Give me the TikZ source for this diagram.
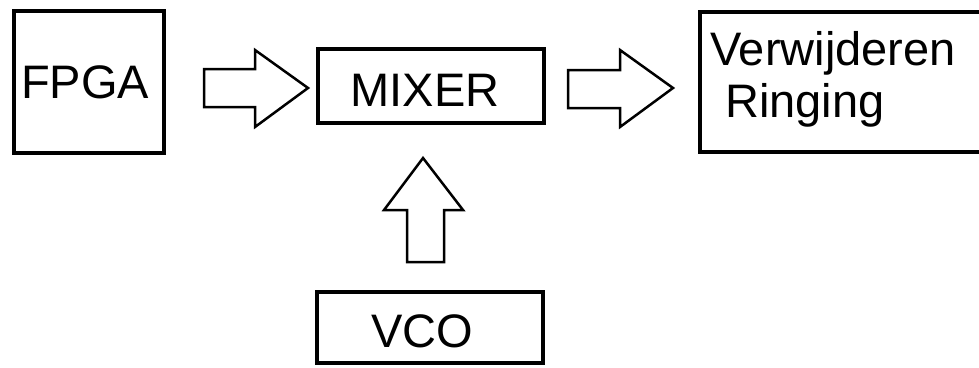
\documentclass[tikz,border=0pt]{standalone}
\usepackage{fontspec}
\setmainfont{Liberation Sans}
\begin{document}
\begin{tikzpicture}[x=1pt,y=-1pt,
  blk/.style={draw=black,line width=4pt,fill=white,inner sep=0pt,rectangle},
  lbl/.style={font=\fontsize{47}{52}\selectfont,inner sep=0pt,anchor=base},
  barrow/.style={draw=black,line width=2.5pt,line join=miter,fill=white}]
\useasboundingbox (0,0) rectangle (979,367);
\fill[white] (0,0) rectangle (979,367);
% boxes
\node[blk,minimum width=150pt,minimum height=142pt] (fpga) at (89,82) {};
\node[blk,minimum width=226pt,minimum height=74pt] (mixer) at (431,86) {};
\node[blk,minimum width=310pt,minimum height=140pt,anchor=west] (ring) at (698,82) {};
\node[blk,minimum width=226pt,minimum height=71pt] (vco) at (430,327.5) {};
% texts
\node[lbl] (tfpga) at (85,98) {FPGA};
\node[lbl] (tmixer) at (425,106) {MIXER};
\node[lbl,anchor=base west] (tring1) at (710,65) {Verwijderen};
\node[lbl,anchor=base west] (tring2) at (725,117) {Ringing};
\node[lbl] (tvco) at (422,347) {VCO};
% block arrows
\draw[barrow] (204,69) -- (255,69) -- (255,50) -- (308,88) -- (255,127) -- (255,107) -- (204,107) -- cycle;
\draw[barrow] (568,70) -- (620,70) -- (620,50) -- (673,88) -- (620,127) -- (620,108) -- (568,108) -- cycle;
\draw[barrow] (407,262) -- (407,210) -- (384,210) -- (423,158) -- (463,210) -- (444,210) -- (444,262) -- cycle;
\end{tikzpicture}
\end{document}
